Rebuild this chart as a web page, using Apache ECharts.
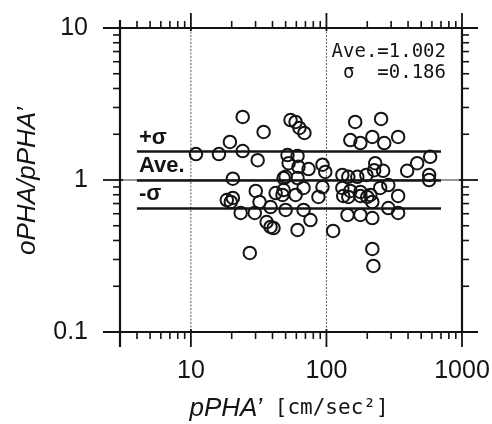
<!DOCTYPE html>
<html><head><meta charset="utf-8">
<script src="https://cdn.jsdelivr.net/npm/echarts@6/dist/echarts.min.js"></script>
<style>html,body{margin:0;padding:0;background:#fff}#c{width:492px;height:424px}</style>
</head><body><div id="c"></div>
<script>
// pPHA' [cm/sec^2]
const pphaValues = [
  10.9,16.1,19.4,24.1,24.1,34.4,31.1,20.4,18.4,19.7,20.4,23.3,29.6,30.1,32.1,36.2,38.7,27.2,38.7,42.2,48.3,48.3,61.2,
  54.3,59.2,63.2,68.8,51.6,61.2,52.6,62.2,73.8,93.5,98,50.0,61.2,67.8,47.4,59.2,87.3,50.0,67.8,76.2,40.7,112,93.5,
  163,253,150,178,218,267,338,131,145,169,197,229,225,262,394,467,582,572,572,131,150,178,133,145,178,200,218,211,249,286,338,286,338,143,178,218,218,222
];
// oPHA/pPHA'
const ratioValues = [
  1.48,1.48,1.78,2.60,1.55,2.07,1.35,1.02,0.738,0.717,0.762,0.607,0.607,0.847,0.717,0.529,0.491,0.331,0.664,0.821,1.03,0.859,0.469,
  2.48,2.41,2.20,2.04,1.46,1.44,1.29,1.22,1.18,1.26,1.13,1.05,1.03,0.886,0.797,0.797,0.773,0.635,0.635,0.545,0.483,0.462,0.899,
  2.41,2.52,1.83,1.75,1.92,1.75,1.92,1.08,1.05,1.05,1.08,1.29,1.16,1.15,1.15,1.29,1.42,1.08,1.0,0.886,0.847,0.834,0.785,0.773,0.785,0.773,0.717,0.797,0.886,0.927,0.785,0.654,0.607,0.589,0.589,0.562,0.352,0.272
];
const sigmaLevels = [1.538, 1.002, 0.653];
const sigmaNames = ['+σ', 'Ave.', '-σ'];
const sigmaRange = [4, 700];
const statsLines = ['Ave.=1.002', 'σ  =0.186'];
const xRange = [3, 1000];
const yRange = [0.1, 10];
const xTickValues = [10, 100, 1000];
const xTickLabels = ['10', '100', '1000'];
const yTickValues = [0.1, 1, 10];
const yTickLabels = ['0.1', '1', '10'];
const xMinorTicks = [4,5,6,7,8,9,20,30,40,50,60,70,80,90,200,300,400,500,600,700,800,900];
const yMinorTicks = [0.2,0.3,0.4,0.5,0.6,0.7,0.8,0.9,2,3,4,5,6,7,8,9];
const xGridValues = [10, 100];
const yGridValues = [1];

const points = pphaValues.map((v, i) => [v, ratioValues[i]]);

function labelFor(values, labels) {
  return function (v) {
    for (let i = 0; i < values.length; i++) {
      if (Math.abs(Math.log10(v) - Math.log10(values[i])) < 1e-6) return labels[i];
    }
    return '';
  };
}

const INK = '#141414';
function renderGridLines(params, api) {
  const ch = [];
  const tl = api.coord([xRange[0], yRange[1]]);
  const br = api.coord([xRange[1], yRange[0]]);
  xGridValues.forEach(v => {
    const x = api.coord([v, yRange[0]])[0];
    ch.push({type: 'line', shape: {x1: x, y1: tl[1], x2: x, y2: br[1]}, style: {stroke: '#555', lineWidth: 1, lineDash: [2, 1.5]}});
  });
  yGridValues.forEach(v => {
    const y = api.coord([xRange[0], v])[1];
    ch.push({type: 'line', shape: {x1: tl[0], y1: y, x2: br[0], y2: y}, style: {stroke: '#333', lineWidth: 1}});
  });
  return {type: 'group', children: ch};
}
function renderFrame(params, api) {
  const ch = [];
  const tl = api.coord([xRange[0], yRange[1]]);
  const br = api.coord([xRange[1], yRange[0]]);
  const x0 = tl[0], y0 = tl[1], x1 = br[0], y1 = br[1];
  const line = (a, b, c, d, w) => ch.push({type: 'line', shape: {x1: a, y1: b, x2: c, y2: d}, style: {stroke: INK, lineWidth: w}});
  line(x0 - 17, y0, x1 + 16, y0, 2.2);
  line(x0 - 17, y1, x1 + 16, y1, 2.2);
  line(x0, y0 - 8, x0, y1 + 15, 2.2);
  xMinorTicks.forEach(v => {
    const x = api.coord([v, yRange[0]])[0];
    line(x, y1, x, y1 + 7, 1.6); line(x, y0, x, y0 - 7, 1.6);
  });
  xTickValues.forEach(v => {
    const x = api.coord([v, yRange[0]])[0];
    line(x, y1 - 3, x, y1 + 15, 1.8); line(x, y0 + 3, x, y0 - 15, 1.8);
  });
  line(x1, y0, x1, y1, 2.2);
  yMinorTicks.forEach(v => {
    const y = api.coord([xRange[0], v])[1];
    line(x0, y, x0 - 7, y, 1.6); line(x1, y, x1 + 7, y, 1.6);
  });
  yTickValues.forEach(v => {
    const y = api.coord([xRange[0], v])[1];
    line(x0 + 3, y, x0 - 17, y, 1.8); line(x1 - 3, y, x1 + 16, y, 1.8);
  });
  return {type: 'group', children: ch};
}

const chart = echarts.init(document.getElementById('c'), null, {renderer: 'canvas'});
chart.setOption({
  backgroundColor: '#fff',
  animation: false,
  grid: {left: 120, top: 28, width: 342, height: 304, containLabel: false, outerBoundsMode: 'none'},
  xAxis: {
    type: 'log', logBase: 10, min: xRange[0], max: xRange[1],
    axisLine: {show: false}, axisTick: {show: false}, splitLine: {show: false},
    axisLabel: {show: true, showMinLabel: true, showMaxLabel: true, formatter: labelFor(xTickValues, xTickLabels),
      fontSize: 25, fontFamily: 'Liberation Sans', color: INK, margin: 27}
  },
  yAxis: {
    type: 'log', logBase: 10, min: yRange[0], max: yRange[1],
    axisLine: {show: false}, axisTick: {show: false}, splitLine: {show: false},
    axisLabel: {show: true, showMinLabel: true, showMaxLabel: true, formatter: labelFor(yTickValues, yTickLabels),
      fontSize: 25, fontFamily: 'Liberation Sans', color: INK, margin: 32}
  },
  graphic: [
    {type: 'text', x: 28, y: 181, rotation: Math.PI / 2,
      style: {text: 'oPHA/pPHA’', fontStyle: 'italic', fontSize: 26, fontFamily: 'Liberation Sans', fill: INK, align: 'center', verticalAlign: 'middle'}},
    {type: 'text', x: 289, y: 409,
      style: {text: '{a|pPHA’}{b| [cm/sec²]}', align: 'center', verticalAlign: 'middle', fill: INK,
        rich: {a: {fontStyle: 'italic', fontSize: 26, fontFamily: 'Liberation Sans', fill: INK},
               b: {fontSize: 21, fontFamily: 'DejaVu Sans Mono', fill: INK}}}},
    {type: 'text', x: 446, y: 52,
      style: {text: statsLines[0], fontSize: 19, fontFamily: 'DejaVu Sans Mono', fill: INK, align: 'right', verticalAlign: 'middle'}},
    {type: 'text', x: 446, y: 73,
      style: {text: statsLines[1], fontSize: 19, fontFamily: 'DejaVu Sans Mono', fill: INK, align: 'right', verticalAlign: 'middle'}}
  ],
  series: [
    {type: 'custom', renderItem: renderGridLines, data: [[10, 1]], clip: false, silent: true, z: 1},
    {
      type: 'scatter', data: points, symbol: 'circle', symbolSize: 12.5, z: 3,
      itemStyle: {color: 'rgba(0,0,0,0)', borderColor: INK, borderWidth: 2, opacity: 1},
      markLine: {
        symbol: 'none', silent: true, animation: false,
        lineStyle: {color: INK, width: 2.6, type: 'solid'},
        label: {show: true, position: 'insideStartTop', formatter: '{b}', fontWeight: 'bold', fontSize: 22,
          fontFamily: 'Liberation Sans', color: INK, distance: [2, 3]},
        data: sigmaLevels.map((v, i) => [{coord: [sigmaRange[0], v], name: sigmaNames[i]}, {coord: [sigmaRange[1], v]}])
      }
    },
    {type: 'custom', renderItem: renderFrame, data: [[10, 1]], clip: false, silent: true, z: 5}
  ]
});
</script></body></html>
